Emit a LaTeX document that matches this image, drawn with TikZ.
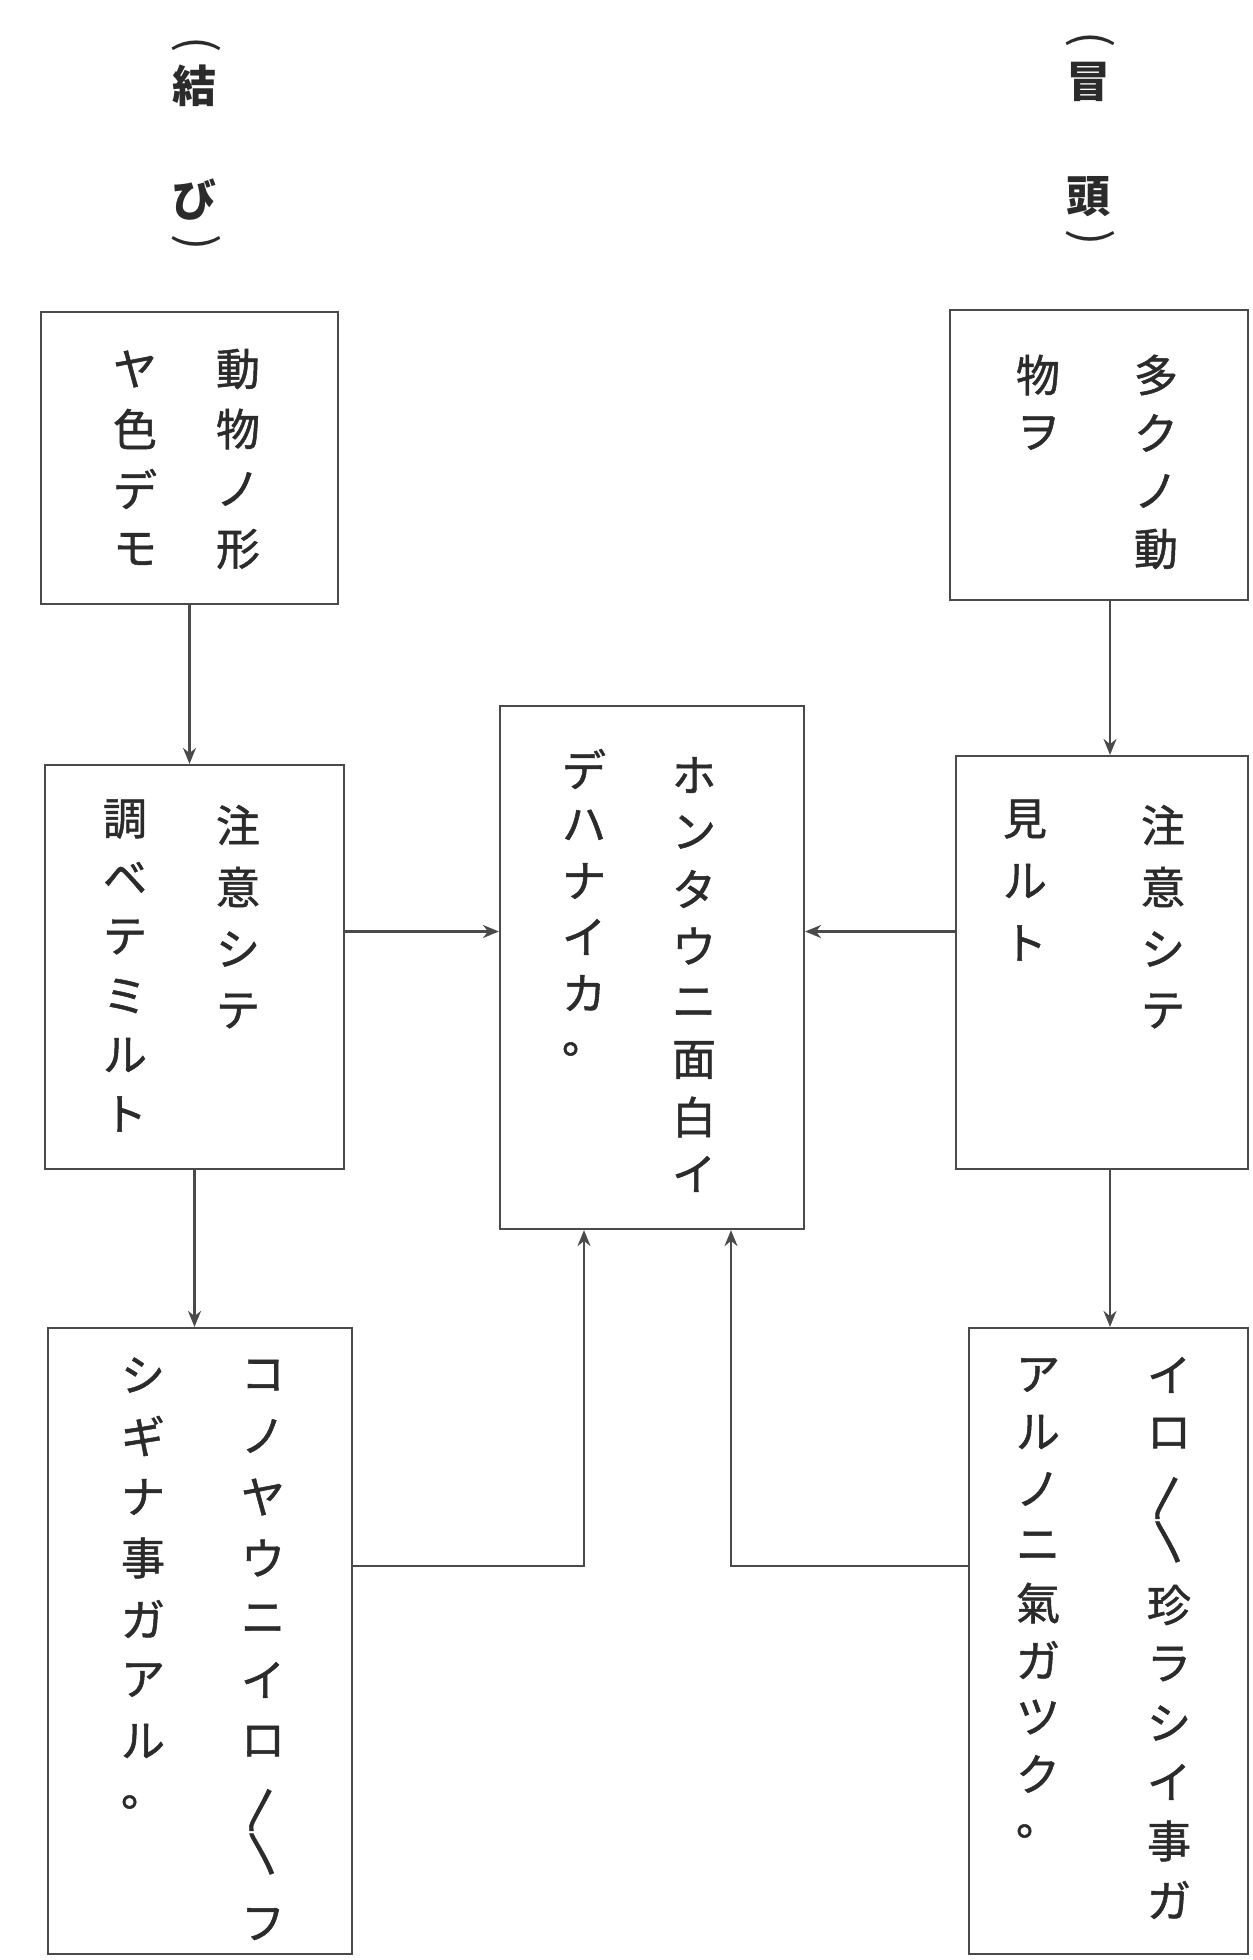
\documentclass[tikz,border=0pt]{standalone}
\usepackage{fontspec}
\newfontfamily\jp[FakeBold=1.2]{Noto Sans CJK JP}
\newfontfamily\jpb{Noto Sans CJK JP}
\usetikzlibrary{arrows.meta}
\definecolor{ink}{HTML}{2B2B2B}
\definecolor{rule}{HTML}{4A4A4A}
\tikzset{
  box/.style={draw=rule, line width=1.1pt, inner sep=0pt},
  ch/.style={font=\jp\fontsize{22pt}{22pt}\selectfont, text=ink, inner sep=0pt},
  lbl/.style={font=\jpb\bfseries\fontsize{22pt}{22pt}\selectfont, text=ink, inner sep=0pt},
  brk/.style={font=\jpb\fontsize{24pt}{24pt}\selectfont, text=ink, inner sep=0pt, rotate=-90},
  arr/.style={draw=rule, line width=1.1pt, -{Stealth[length=8pt,width=6.5pt]}},
}
\newcommand\vcol[5]{\foreach \vc [count=\vi] in {#5} {\node[ch] (#1-\vi) at (#2,{#3+(\vi-1)*#4}) {\vc};}}
\begin{document}
\begin{tikzpicture}[x=0.5pt,y=-0.5pt]
\fill[white] (0,0) rectangle (1253,1960);
\useasboundingbox (0,0) rectangle (1253,1960);

% labels
\node[brk] (lL0) at (196,45) {(};
\node[lbl] (lL1) at (194,86) {結};
\node[lbl] (lL2) at (194,200) {び};
\node[brk] (lL3) at (196,243) {)};
\node[brk] (lR0) at (1090,40) {(};
\node[lbl] (lR1) at (1088,82) {冒};
\node[lbl] (lR2) at (1088,197) {頭};
\node[brk] (lR3) at (1090,238) {)};

% boxes
\node[box, minimum width=148.5pt, minimum height=146pt] (A) at (189.5,458) {};
\node[box, minimum width=149.5pt, minimum height=202pt] (B) at (194.5,967) {};
\node[box, minimum width=152pt, minimum height=313pt] (C) at (200,1641) {};
\node[box, minimum width=152pt, minimum height=261.5pt] (D) at (652,967.5) {};
\node[box, minimum width=149pt, minimum height=145pt] (E) at (1099,455) {};
\node[box, minimum width=146pt, minimum height=206.5pt] (F) at (1102,962.5) {};
\node[box, minimum width=139.5pt, minimum height=313pt] (G) at (1108.5,1641) {};

% texts
\vcol{Ar}{238}{369}{60}{動,物,ノ,形}
\vcol{Al}{135}{369}{60}{ヤ,色,デ,モ}
\vcol{Br}{238}{825}{62}{注,意,シ,テ}
\vcol{Bl}{125}{819}{59}{調,ベ,テ,ミ,ル,ト}
\vcol{Cr}{263}{1375}{61}{コ,ノ,ヤ,ウ,ニ,イ,ロ}
\node[ch] (Crep1) at (263,1810) {〳};
\node[ch] (Crep2) at (263,1854) {〵};
\node[ch] (Crf) at (263,1924) {フ};
\vcol{Cl}{143}{1375}{61}{シ,ギ,ナ,事,ガ,ア,ル,。}
\vcol{Dr}{694}{775}{57}{ホ,ン,タ,ウ,ニ,面,白,イ}
\vcol{Dl}{584}{769}{56}{デ,ハ,ナ,イ,カ,。}
\vcol{Er}{1156}{375}{58}{多,ク,ノ,動}
\vcol{El}{1038}{375}{58}{物,ヲ}
\vcol{Fr}{1163}{825}{62}{注,意,シ,テ}
\vcol{Fl}{1025}{819}{62}{見,ル,ト}
\vcol{Gr}{1169}{1375}{58}{イ,ロ}
\node[ch] (Grep1) at (1169,1498) {〳};
\node[ch] (Grep2) at (1169,1542) {〵};
\vcol{Gs}{1169}{1605}{59}{珍,ラ,シ,イ,事,ガ}
\vcol{Gl}{1038}{1375}{57}{ア,ル,ノ,ニ,氣,ガ,ツ,ク,。}

% connectors
\draw[arr] (A.south) -- (A.south |- B.north);
\draw[arr] (B.south) -- (B.south |- C.north);
\draw[arr] ([xshift=5.5pt]E.south) -- ([xshift=5.5pt]E.south |- F.north);
\draw[arr] ([xshift=4pt]F.south) -- ([xshift=4pt]F.south |- G.north);
\coordinate (dL) at ([yshift=18pt]D.west);
\coordinate (dR) at ([yshift=18pt]D.east);
\draw[arr] (B.east |- dL) -- (dL);
\draw[arr] (F.west |- dR) -- (dR);
\coordinate (cJ) at ([yshift=37.5pt]C.east);
\coordinate (dB1) at ([xshift=-34pt]D.south);
\draw[arr] (cJ) -| (dB1);
\coordinate (gJ) at ([yshift=37.5pt]G.west);
\coordinate (dB2) at ([xshift=39.5pt]D.south);
\draw[arr] (gJ) -| (dB2);
\end{tikzpicture}
\end{document}
